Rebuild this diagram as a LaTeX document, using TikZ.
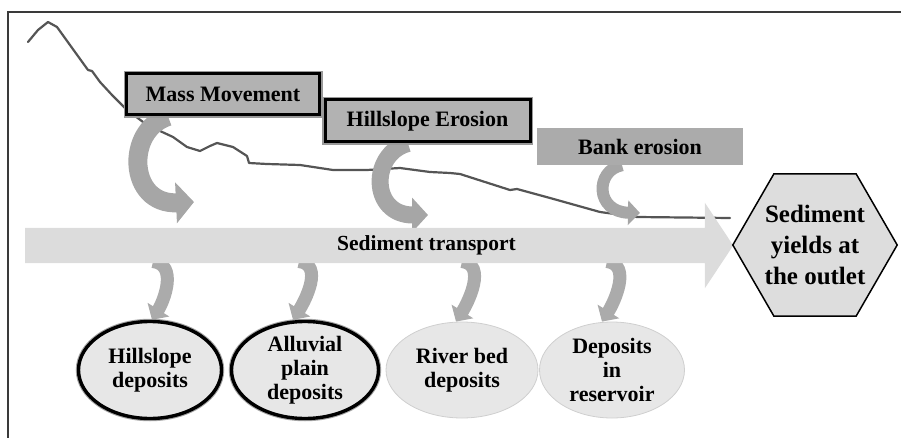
\documentclass[tikz,border=0pt]{standalone}
\usepackage{fontspec}
\setmainfont{Liberation Serif}
\usetikzlibrary{shapes.geometric,shapes.arrows,arrows.meta}
\pgfdeclarelayer{background}
\pgfsetlayers{background,main}
\definecolor{boxgray}{HTML}{B2B2B2}
\definecolor{bankgray}{HTML}{ABABAB}
\definecolor{arrgray}{HTML}{A6A6A6}
\definecolor{botgray}{HTML}{ABABAB}
\definecolor{transgray}{HTML}{DCDCDC}
\definecolor{ellfill}{HTML}{E7E7E7}
\definecolor{ellline}{HTML}{CFCFCF}
\definecolor{hexfill}{HTML}{DDDDDD}
\definecolor{terrain}{HTML}{555555}
\definecolor{framecol}{HTML}{3A3A3A}
\begin{document}
\begin{tikzpicture}[x=1pt,y=-1pt,
  lbl/.style={font=\fontsize{22}{24}\selectfont\bfseries, align=center},
  framebox/.style={lbl, rectangle, fill=boxgray, draw=black, line width=3pt,
    preaction={draw=gray!80, line width=6pt}, inner sep=0pt},
  bankbox/.style={lbl, rectangle, fill=bankgray, draw=none, inner sep=0pt},
  strongell/.style={lbl, ellipse, fill=ellfill, draw=black, line width=3.4pt,
    preaction={draw=gray!70, line width=5.5pt}, inner sep=0pt},
  softell/.style={lbl, ellipse, fill=ellfill, draw=ellline, line width=0.8pt, inner sep=0pt},
  toparrow/.style={draw=arrgray, line width=#1},
  botarrow/.style={draw=botgray, line width=13pt, -{Triangle[width=25pt,length=12pt]}},
  terrainline/.style={draw=terrain, line width=2.2pt, line join=round, line cap=round}
]
\useasboundingbox (0,0) rectangle (901,438);

% frame
\draw[framecol, line width=1.2pt] (8,438) -- (8,12) -- (901,12);

% sediment transport arrow
\node[single arrow, fill=transgray, draw=none, anchor=tail,
  minimum height=708pt, minimum width=85pt, inner xsep=0pt, inner ysep=17.5pt,
  single arrow head extend=25pt, single arrow tip angle=113] (transport) at (25,245.5) {};
\node[lbl, font=\fontsize{21.5}{24}\selectfont\bfseries] (tlabel) at (426.5,245) {Sediment transport};

% source boxes
\node[framebox, minimum width=193pt, minimum height=41pt] (mm) at (223,94.5) {Mass Movement};
\node[framebox, minimum width=205pt, minimum height=42pt] (he) at (427.5,121) {Hillslope Erosion};
\node[bankbox, minimum width=206pt, minimum height=37pt] (be) at (640,146.5) {Bank erosion};

% deposit ellipses
\node[strongell, minimum width=143pt, minimum height=97pt] (hd) at (150,370) {Hillslope\\deposits};
\node[strongell, minimum width=147pt, minimum height=97pt] (ap) at (305,370) {Alluvial\\plain\\deposits};
\node[softell, minimum width=152pt, minimum height=96pt] (rb) at (462,370) {River bed\\deposits};
\node[softell, minimum width=145pt, minimum height=96pt] (dr) at (612,370) {Deposits\\in\\reservoir};

% outlet hexagon
\node[regular polygon, regular polygon sides=6, minimum size=164pt, inner sep=0pt,
  fill=hexfill, draw=black, line width=1.5pt, align=center,
  font=\fontsize{25}{31}\selectfont\bfseries] (out) at (815,245) {Sediment\\yields at\\the outlet};

\begin{pgfonlayer}{background}
% terrain profile
\draw[terrainline] (28,42) -- (38,30) -- (48,22) -- (57,27) -- (75,52) -- (88,70) -- (92,71)
  -- (100,82) -- (112,95) -- (127,110) -- (147,125) -- (173,137) -- (187,147) -- (200,151)
  -- (210,146) -- (217,143) -- (233,147) -- (247,156) -- (249,163) -- (267,164) -- (300,165)
  -- (333,170) -- (367,170) -- (400,168) -- (430,172) -- (450,173) -- (460,174) -- (510,190)
  -- (517,189) -- (550,198) -- (600,212) -- (637,217) -- (730,218);

% erosion arrows into transport
\draw[toparrow=19pt, -{Triangle[width=40pt,length=18pt]}]
  ([xshift=-55pt]mm.south) .. controls +(-43,14) and +(-66,3) .. ([xshift=169pt,yshift=43.5pt]transport.tail);
\draw[toparrow=17pt, -{Triangle[width=34pt,length=16pt]}]
  ([xshift=-19.5pt]he.south) .. controls +(-38,10) and +(-58,0) .. ([xshift=403pt,yshift=30.5pt]transport.tail);
\draw[toparrow=12pt, -{Triangle[width=24pt,length=12pt]}]
  ([xshift=-18pt]be.south) .. controls +(-27,5) and +(-45,-1) .. ([xshift=615pt,yshift=32.5pt]transport.tail);

% deposition arrows out of transport
\draw[botarrow] ([xshift=128pt,yshift=-16pt]transport.tail) .. controls +(25,3) and +(12,-19) .. ([xshift=2pt]hd.north);
\draw[botarrow] ([xshift=274pt,yshift=-16pt]transport.tail) .. controls +(25,3) and +(12,-19) .. ([xshift=-12pt]ap.north);
\draw[botarrow] ([xshift=437pt,yshift=-16pt]transport.tail) .. controls +(25,3) and +(12,-19) .. ([xshift=-6pt]rb.north);
\draw[botarrow] ([xshift=582pt,yshift=-16pt]transport.tail) .. controls +(25,3) and +(12,-19) .. ([xshift=-10pt]dr.north);
\end{pgfonlayer}
\end{tikzpicture}
\end{document}
